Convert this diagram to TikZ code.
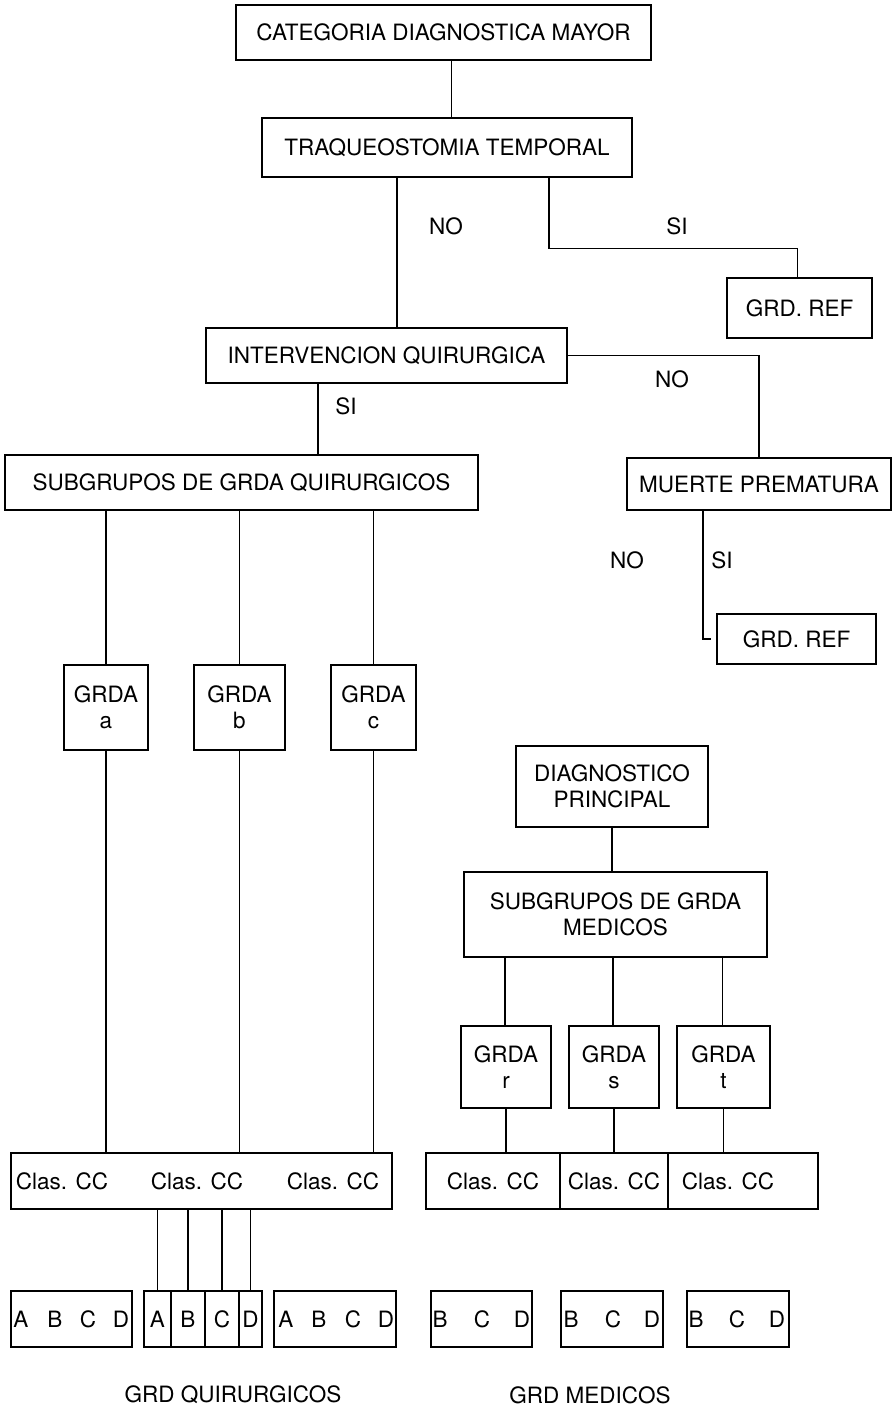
\documentclass[tikz,border=0pt]{standalone}
\usepackage{fontspec}
\setmainfont{TeX Gyre Heros}
\begin{document}
\begin{tikzpicture}[x=1pt,y=1pt,
  every node/.style={font=\fontsize{22.5}{26}\selectfont, inner sep=0pt},
  box/.style={draw, line width=1.3pt, align=center},
  lbl/.style={},
  conn/.style={line width=1.3pt}]
\useasboundingbox[fill=white] (0,0) rectangle (893,-1411);
% top part
\node[box, minimum width=415, minimum height=55] (cdm) at (443.5,-32.5) {CATEGORIA DIAGNOSTICA MAYOR};
\node[box, minimum width=370, minimum height=59] (tt) at (447,-147.5) {TRAQUEOSTOMIA TEMPORAL};
\node[box, minimum width=145, minimum height=60] (ref1) at (799.5,-308) {GRD. REF};
\node[box, minimum width=361, minimum height=55] (iq) at (386.5,-355.5) {INTERVENCION QUIRURGICA};
\node[box, minimum width=473, minimum height=55] (sgq) at (241.5,-482.5) {SUBGRUPOS DE GRDA QUIRURGICOS};
\node[box, minimum width=264, minimum height=52] (mp) at (759,-484) {MUERTE PREMATURA};
\node[box, minimum width=159, minimum height=50] (ref2) at (796.5,-639) {GRD. REF};
% GRDA quirurgicos
\node[box, minimum width=84, minimum height=85] (ga) at (106,-707.5) {GRDA\\a};
\node[box, minimum width=91, minimum height=85] (gb) at (239.5,-707.5) {GRDA\\b};
\node[box, minimum width=85, minimum height=85] (gc) at (373.5,-707.5) {GRDA\\c};
% medicos
\node[box, minimum width=192, minimum height=81] (dp) at (612,-786.5) {DIAGNOSTICO\\PRINCIPAL};
\node[box, minimum width=303, minimum height=85] (sgm) at (615.5,-914.5) {SUBGRUPOS DE GRDA\\MEDICOS};
\node[box, minimum width=90, minimum height=82] (gr) at (506,-1067) {GRDA\\r};
\node[box, minimum width=90, minimum height=82] (gs) at (614,-1067) {GRDA\\s};
\node[box, minimum width=93, minimum height=82] (gt) at (723.5,-1067) {GRDA\\t};
% Clas CC
\node[box, minimum width=381, minimum height=56] (clq) at (201.5,-1181) {};
\node (clq1) at (62,-1181) {Clas. CC};
\node (clq2) at (197,-1181) {Clas. CC};
\node (clq3) at (333,-1181) {Clas. CC};
\node[box, minimum width=134, minimum height=56] (clm1) at (493,-1181) {Clas. CC};
\node[box, minimum width=108, minimum height=56] (clm2) at (614,-1181) {Clas. CC};
\node[box, minimum width=150, minimum height=56] (clm3) at (743,-1181) {};
\node (clm3t) at (728,-1181) {Clas. CC};
% ABCD boxes
\node[box, minimum width=121, minimum height=56] (q1) at (71.5,-1319) {};
\node (q1a) at (21,-1319) {A};
\node (q1b) at (55,-1319) {B};
\node (q1c) at (88,-1319) {C};
\node (q1d) at (121,-1319) {D};
\node[box, minimum width=27, minimum height=56] (q2a) at (157.5,-1319) {A};
\node[box, minimum width=34, minimum height=56] (q2b) at (188,-1319) {B};
\node[box, minimum width=34, minimum height=56] (q2c) at (222,-1319) {C};
\node[box, minimum width=23, minimum height=56] (q2d) at (250.5,-1319) {D};
\node[box, minimum width=122, minimum height=56] (q3) at (335,-1319) {};
\node (q3a) at (286,-1319) {A};
\node (q3b) at (319,-1319) {B};
\node (q3c) at (353,-1319) {C};
\node (q3d) at (386,-1319) {D};
% BCD boxes
\node[box, minimum width=101, minimum height=56] (m1) at (481.5,-1319) {};
\node (m1b) at (440,-1319) {B};
\node (m1c) at (482,-1319) {C};
\node (m1d) at (522,-1319) {D};
\node[box, minimum width=102, minimum height=56] (m2) at (612,-1319) {};
\node (m2b) at (571,-1319) {B};
\node (m2c) at (613,-1319) {C};
\node (m2d) at (652,-1319) {D};
\node[box, minimum width=102, minimum height=56] (m3) at (738,-1319) {};
\node (m3b) at (696,-1319) {B};
\node (m3c) at (737,-1319) {C};
\node (m3d) at (777,-1319) {D};
% labels
\node[lbl] (l1) at (446,-226) {NO};
\node[lbl] (l2) at (677,-226) {SI};
\node[lbl] (l3) at (672,-379) {NO};
\node[lbl] (l4) at (346,-406) {SI};
\node[lbl] (l5) at (627,-560) {NO};
\node[lbl] (l6) at (722,-560) {SI};
\node[lbl] (cap1) at (233,-1395) {GRD QUIRURGICOS};
\node[lbl] (cap2) at (590,-1395) {GRD MEDICOS};
% connectors
\coordinate (c0) at ([xshift=8pt]cdm.south);
\draw[conn] (c0) -- (c0 |- tt.north);
\coordinate (c1) at ([xshift=-50pt]tt.south);
\draw[conn] (c1) -- (c1 |- iq.north);
\coordinate (c2) at ([xshift=102pt]tt.south);
\draw[conn] (c2) |- ++(0,-71) -| ([xshift=-2pt]ref1.north);
\draw[conn] (iq.east) -| (mp.north);
\coordinate (c3) at ([xshift=-68.5pt]iq.south);
\draw[conn] (c3) -- (c3 |- sgq.north);
\coordinate (c4) at ([xshift=-56pt]mp.south);
\coordinate (c5) at ([xshift=-5pt]ref2.west);
\draw[conn] (c4) |- (c5);
\foreach \g in {ga,gb,gc}{
  \draw[conn] (\g.north |- sgq.south) -- (\g.north);
  \draw[conn] (\g.south) -- (\g.south |- clq.north);
}
\draw[conn] (dp.south) -- (dp.south |- sgm.north);
\foreach \g in {gr,gs,gt}{
  \draw[conn] ([xshift=-1pt]\g.north |- sgm.south) -- ([xshift=-1pt]\g.north);
}
\draw[conn] (gr.south) -- (gr.south |- clm1.north);
\draw[conn] (gs.south) -- (gs.south |- clm2.north);
\draw[conn] (gt.south) -- (gt.south |- clm3.north);
\foreach \c in {q2a,q2b,q2c,q2d}{
  \draw[conn] (\c.north |- clq.south) -- (\c.north);
}
\end{tikzpicture}
\end{document}
